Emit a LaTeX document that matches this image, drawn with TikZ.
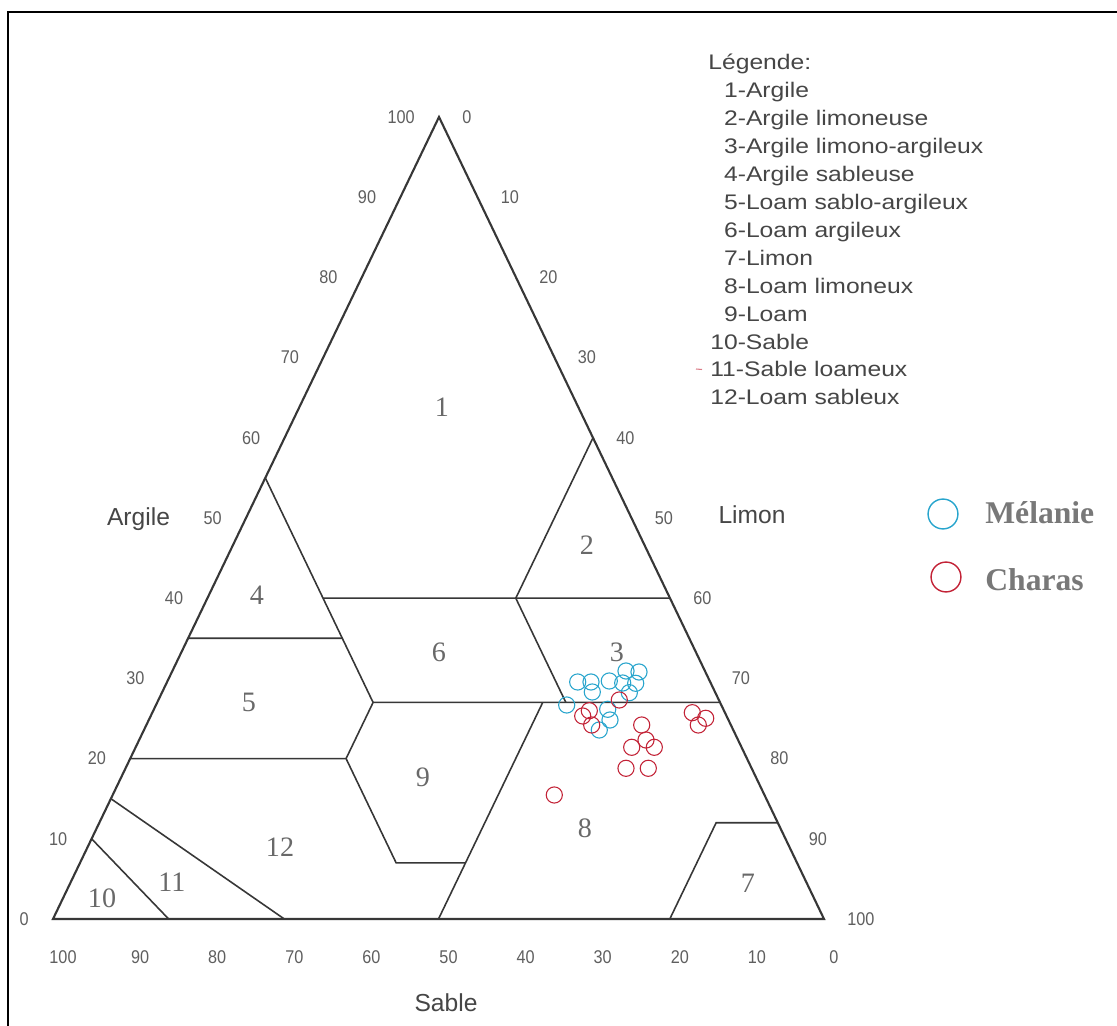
\documentclass[tikz,border=0pt]{standalone}
\usepackage{fontspec}
\setmainfont{Liberation Sans}
\newfontfamily\regfont{Liberation Serif}
\newfontfamily\legfont[FakeStretch=1.17]{Liberation Sans}
\newfontfamily\tickfont[FakeStretch=0.88]{Liberation Sans}
\definecolor{linec}{RGB}{55,55,55}
\definecolor{tickc}{RGB}{95,95,95}
\definecolor{numc}{RGB}{105,105,105}
\definecolor{legc}{RGB}{70,70,70}
\definecolor{melc}{RGB}{40,165,205}
\definecolor{chac}{RGB}{195,35,55}
\definecolor{namec}{RGB}{120,120,120}
\begin{document}
\begin{tikzpicture}[x=0.02cm,y=-0.02cm,
  outer/.style={draw=linec,line width=1.2pt,line join=miter},
  zone/.style={draw=linec,line width=0.9pt},
  tick/.style={font=\tickfont\fontsize{10.5}{12}\selectfont,text=tickc,inner sep=0pt},
  zonenum/.style={font=\regfont\fontsize{16}{18}\selectfont,text=numc,inner sep=0pt},
  axname/.style={font=\fontsize{14}{16}\selectfont,text=legc,inner sep=0pt,anchor=base},
  legline/.style={font=\legfont\fontsize{12}{14}\selectfont,text=legc,inner sep=0pt,anchor=base west},
  mel/.style={draw=melc,line width=0.6pt},
  cha/.style={draw=chac,line width=0.6pt},
  who/.style={font=\regfont\bfseries\fontsize{18}{20}\selectfont,text=namec,inner sep=0pt,anchor=west}]
\useasboundingbox (0,0) rectangle (1117,1026);
\fill[white] (0,0) rectangle (1117,1026);
% frame
\draw[black,line width=1.2pt] (8,1026) -- (8,12) -- (1117,12);
% corners of the triangle
\coordinate (A) at (439,117);
\coordinate (SA) at (53,919);
\coordinate (SI) at (824,919);
% region vertices (clay, sand, silt) as fractions
\coordinate (p1) at (barycentric cs:A=.55,SA=.45,SI=0);
\coordinate (p2) at (barycentric cs:A=.40,SA=.45,SI=.15);
\coordinate (p3) at (barycentric cs:A=.40,SA=.20,SI=.40);
\coordinate (p4) at (barycentric cs:A=.60,SA=0,SI=.40);
\coordinate (p5) at (barycentric cs:A=.40,SA=0,SI=.60);
\coordinate (p6) at (barycentric cs:A=.27,SA=.20,SI=.53);
\coordinate (p7) at (barycentric cs:A=.27,SA=0,SI=.73);
\coordinate (p8) at (barycentric cs:A=.35,SA=.65,SI=0);
\coordinate (p9) at (barycentric cs:A=.35,SA=.45,SI=.20);
\coordinate (p10) at (barycentric cs:A=.27,SA=.45,SI=.28);
\coordinate (p11) at (barycentric cs:A=.20,SA=.52,SI=.28);
\coordinate (p12) at (barycentric cs:A=.20,SA=.80,SI=0);
\coordinate (p13) at (barycentric cs:A=.07,SA=.52,SI=.41);
\coordinate (p14) at (barycentric cs:A=.07,SA=.43,SI=.50);
\coordinate (p15) at (barycentric cs:A=.27,SA=.23,SI=.50);
\coordinate (p16) at (barycentric cs:A=0,SA=.50,SI=.50);
\coordinate (p17) at (barycentric cs:A=.15,SA=.85,SI=0);
\coordinate (p18) at (barycentric cs:A=0,SA=.70,SI=.30);
\coordinate (p19) at (barycentric cs:A=.10,SA=.90,SI=0);
\coordinate (p20) at (barycentric cs:A=0,SA=.85,SI=.15);
\coordinate (p21) at (barycentric cs:A=.12,SA=.08,SI=.80);
\coordinate (p22) at (barycentric cs:A=.12,SA=0,SI=.88);
\coordinate (p23) at (barycentric cs:A=0,SA=.20,SI=.80);
% region boundaries
\draw[zone] (p1) -- (p10);
\draw[zone] (p2) -- (p5);
\draw[zone] (p3) -- (p4);
\draw[zone] (p3) -- (p6);
\draw[zone] (p8) -- (p9);
\draw[zone] (p10) -- (p7);
\draw[zone] (p10) -- (p11);
\draw[zone] (p12) -- (p11) -- (p13) -- (p14);
\draw[zone] (p15) -- (p16);
\draw[zone] (p17) -- (p18);
\draw[zone] (p19) -- (p20);
\draw[zone] (p22) -- (p21) -- (p23);
% outer triangle
\draw[outer] (A) -- (SA) -- (SI) -- cycle;
% tick labels
\foreach \c in {0,10,...,100}
  \node[tick,anchor=east] (lt\c) at ({53+3.86*\c-24},{919-8.02*\c}) {\c};
\foreach \l in {0,10,...,100}
  \node[tick,anchor=west] (rt\l) at ({439+3.85*\l+23},{117+8.02*\l}) {\l};
\foreach \s in {0,10,...,100}
  \node[tick] (bt\s) at ({824-7.71*\s+10},957) {\s};
% axis names
\node[axname] (nArg) at (138.5,526) {Argile};
\node[axname] (nLim) at (752,524) {Limon};
\node[axname] (nSab) at (446,1012) {Sable};
% region numbers
\node[zonenum] (z1) at (442,407) {1};
\node[zonenum] (z2) at (587,545) {2};
\node[zonenum] (z3) at (617,652) {3};
\node[zonenum] (z4) at (257,595) {4};
\node[zonenum] (z5) at (249,702) {5};
\node[zonenum] (z6) at (439,652) {6};
\node[zonenum] (z7) at (748,883) {7};
\node[zonenum] (z8) at (585,828) {8};
\node[zonenum] (z9) at (423,777) {9};
\node[zonenum] (z10) at (102,898) {10};
\node[zonenum] (z11) at (172,882) {11};
\node[zonenum] (z12) at (280,847) {12};
% legend
\node[legline] (leg0) at (708,70) {Légende:};
\foreach \n/\t [count=\k from 0] in {1/Argile,2/Argile limoneuse,3/Argile limono-argileux,
  4/Argile sableuse,5/Loam sablo-argileux,6/Loam argileux,7/Limon,8/Loam limoneux,
  9/Loam,10/Sable,11/Sable loameux,12/Loam sableux}
  \node[legline] (leg\n) at (710,{98+27.9*\k}) {\ifnum\n<10 \hphantom{0}\fi\n-\t};
\draw[chac!60,line width=0.6pt] (696,369) -- (702,369.5);
% samples
\foreach \x/\y in {577.7/682,591/682,609.3/681,626/671,639/672,622.7/683,635.7/683.3,
  629.3/692.7,592.3/692,566.7/705,607.7/709.3,610/720,599.3/730}
  \draw[mel] (\x,\y) circle[radius=4.6pt];
\foreach \x/\y in {619.3/700,582.7/716,589.3/710.7,591.7/725,641.7/725,646/740,
  631.7/747.3,654.3/747.3,626/768.3,648.3/768.3,692.3/712.7,705.7/718.3,698.3/725,554.3/795}
  \draw[cha] (\x,\y) circle[radius=4.6pt];
% sample legend
\draw[mel,line width=0.8pt] (943,514) circle[radius=8.5pt];
\draw[cha,line width=0.8pt] (946,577) circle[radius=8.5pt];
\node[who] (wMel) at (985,513) {Mélanie};
\node[who] (wCha) at (985,580) {Charas};
\end{tikzpicture}
\end{document}
